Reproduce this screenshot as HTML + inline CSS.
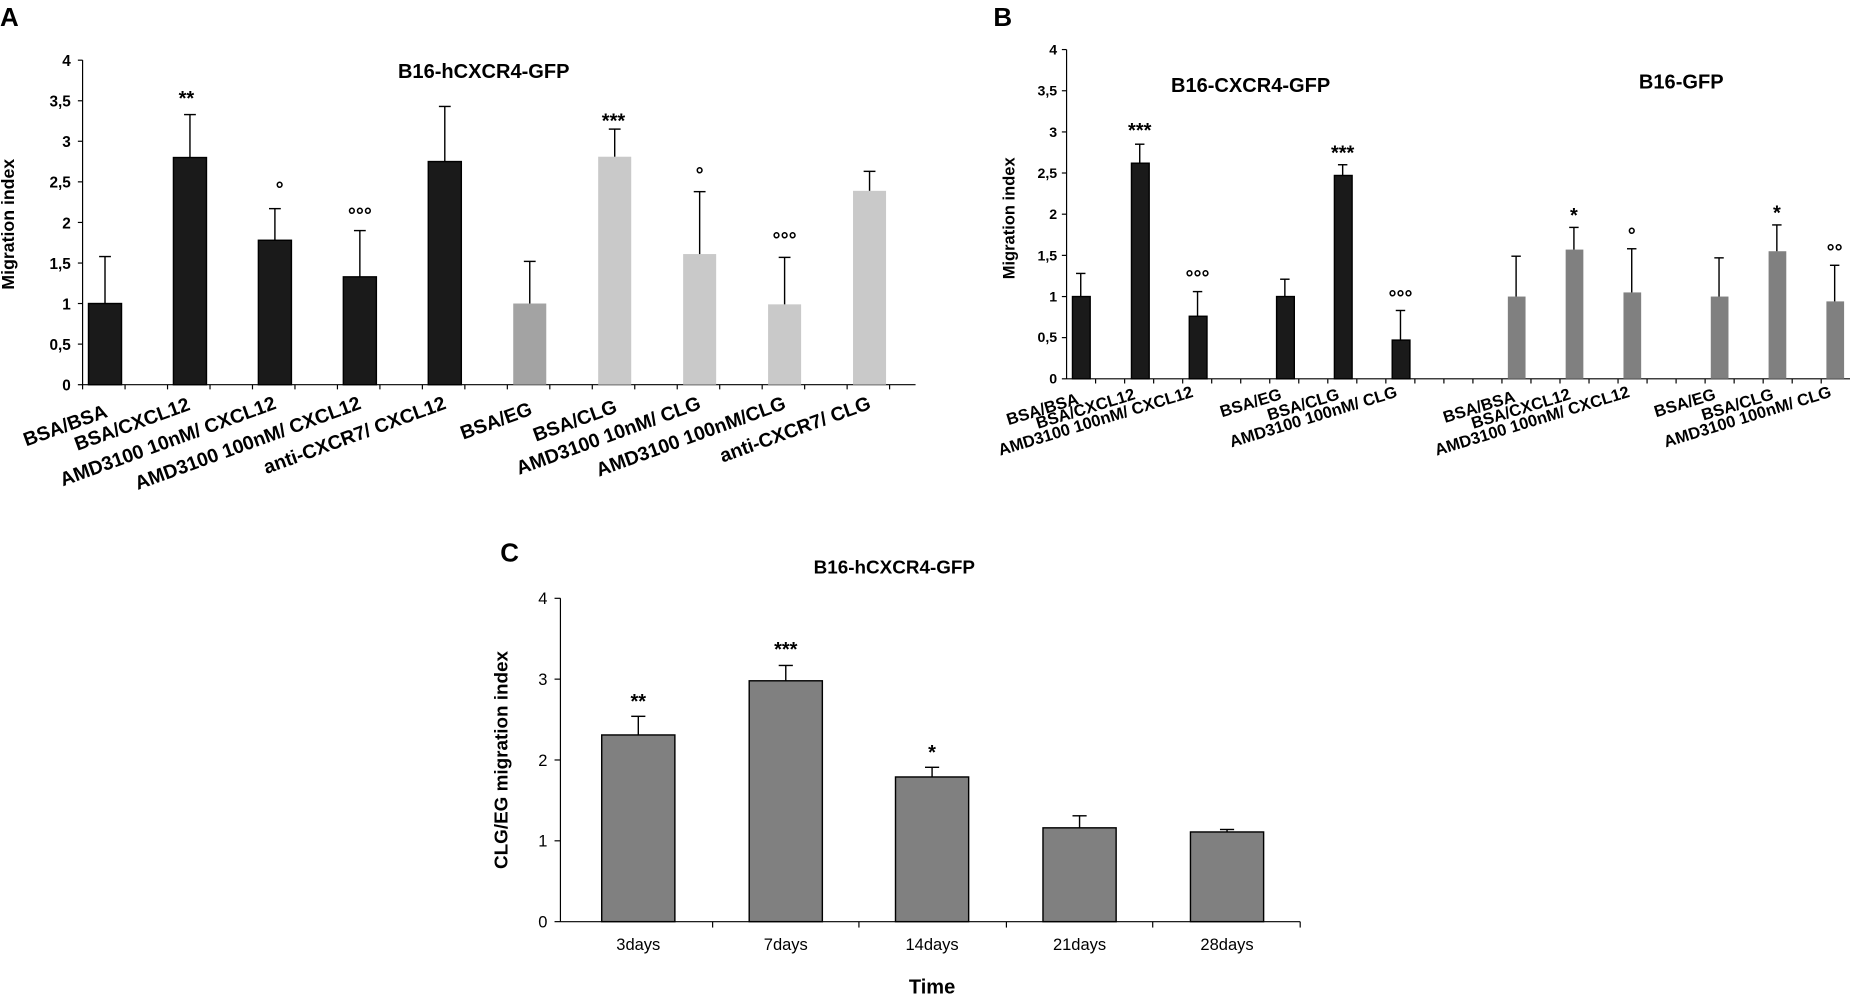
<!DOCTYPE html>
<html><head><meta charset="utf-8"><style>
html,body{margin:0;padding:0;background:#fff;}
svg{display:block;}
text{font-family:"Liberation Sans",Arial,sans-serif;fill:#000;}
.b{font-weight:bold;}
</style></head><body>
<svg width="1850" height="996" viewBox="0 0 1568 844" preserveAspectRatio="none" xmlns="http://www.w3.org/2000/svg">
<rect width="1568" height="844" fill="#fff"/>
<text x="0" y="22" class="b" font-size="22">A</text>
<text x="842" y="22" class="b" font-size="22">B</text>
<text x="424" y="476" class="b" font-size="22">C</text>

<!-- Panel A -->
<g id="A">
<line x1="70" y1="51" x2="70" y2="326" stroke="#000"/>
<line x1="70" y1="326" x2="776" y2="326" stroke="#000"/>
<g font-size="13" text-anchor="end" class="b">
<text x="60" y="331">0</text><text x="60" y="296.6">0,5</text><text x="60" y="262.2">1</text><text x="60" y="227.9">1,5</text>
<text x="60" y="193.5">2</text><text x="60" y="159.1">2,5</text><text x="60" y="124.7">3</text><text x="60" y="90.4">3,5</text><text x="60" y="56">4</text>
</g>
<g stroke="#000">
<line x1="66" y1="326" x2="70" y2="326"/><line x1="66" y1="291.6" x2="70" y2="291.6"/><line x1="66" y1="257.2" x2="70" y2="257.2"/><line x1="66" y1="222.9" x2="70" y2="222.9"/><line x1="66" y1="188.5" x2="70" y2="188.5"/><line x1="66" y1="154.1" x2="70" y2="154.1"/><line x1="66" y1="119.7" x2="70" y2="119.7"/><line x1="66" y1="85.4" x2="70" y2="85.4"/><line x1="66" y1="51" x2="70" y2="51"/>
<path d="M70 326v4M106 326v4M142 326v4M178 326v4M214 326v4M250 326v4M286 326v4M322 326v4M358 326v4M394 326v4M430 326v4M466 326v4M502 326v4M538 326v4M574 326v4M610 326v4M646 326v4M682 326v4M718 326v4M754 326v4"/>
</g>
<text transform="translate(12,190) rotate(-90)" text-anchor="middle" class="b" font-size="15">Migration index</text>
<text x="410" y="66" text-anchor="middle" class="b" font-size="17">B16-hCXCR4-GFP</text>
<g stroke="#000" stroke-width="1.2">
<rect x="75" y="257.2" width="28" height="68.8" fill="#1a1a1a"/><line x1="89" y1="257.2" x2="89" y2="217.4"/><line x1="84" y1="217.4" x2="94" y2="217.4"/>
<rect x="147" y="133.5" width="28" height="192.5" fill="#1a1a1a"/><line x1="161" y1="133.5" x2="161" y2="97.1"/><line x1="156" y1="97.1" x2="166" y2="97.1"/>
<rect x="219" y="203.6" width="28" height="122.4" fill="#1a1a1a"/><line x1="233" y1="203.6" x2="233" y2="176.8"/><line x1="228" y1="176.8" x2="238" y2="176.8"/>
<rect x="291" y="234.6" width="28" height="91.4" fill="#1a1a1a"/><line x1="305" y1="234.6" x2="305" y2="195.4"/><line x1="300" y1="195.4" x2="310" y2="195.4"/>
<rect x="363" y="136.9" width="28" height="189.1" fill="#1a1a1a"/><line x1="377" y1="136.9" x2="377" y2="90.2"/><line x1="372" y1="90.2" x2="382" y2="90.2"/>
<rect x="435" y="257.2" width="28" height="68.8" fill="#a3a3a3" stroke="none"/><line x1="449" y1="257.2" x2="449" y2="221.5"/><line x1="444" y1="221.5" x2="454" y2="221.5"/>
<rect x="507" y="132.8" width="28" height="193.2" fill="#c9c9c9" stroke="none"/><line x1="521" y1="132.8" x2="521" y2="109.4"/><line x1="516" y1="109.4" x2="526" y2="109.4"/>
<rect x="579" y="215.3" width="28" height="110.7" fill="#c9c9c9" stroke="none"/><line x1="593" y1="215.3" x2="593" y2="162.4"/><line x1="588" y1="162.4" x2="598" y2="162.4"/>
<rect x="651" y="257.9" width="28" height="68.1" fill="#c9c9c9" stroke="none"/><line x1="665" y1="257.9" x2="665" y2="218.1"/><line x1="660" y1="218.1" x2="670" y2="218.1"/>
<rect x="723" y="161.7" width="28" height="164.3" fill="#c9c9c9" stroke="none"/><line x1="737" y1="161.7" x2="737" y2="145.2"/><line x1="732" y1="145.2" x2="742" y2="145.2"/>
</g>
<g font-size="17" text-anchor="middle" class="b">
<text x="158" y="89">**</text><text x="237" y="166">°</text><text x="305" y="188">°°°</text><text x="520" y="108">***</text><text x="593" y="154">°</text><text x="665" y="209">°°°</text>
</g>
<g font-size="16.5" text-anchor="end" class="b">
<text transform="translate(92,353) rotate(-20)">BSA/BSA</text>
<text transform="translate(162,347) rotate(-20)">BSA/CXCL12</text>
<text transform="translate(235,346) rotate(-20)">AMD3100 10nM/ CXCL12</text>
<text transform="translate(307,346) rotate(-20)">AMD3100 100nM/ CXCL12</text>
<text transform="translate(379,346) rotate(-20)">anti-CXCR7/ CXCL12</text>
<text transform="translate(452,351) rotate(-20)">BSA/EG</text>
<text transform="translate(524,349) rotate(-20)">BSA/CLG</text>
<text transform="translate(595,346) rotate(-20)">AMD3100 10nM/ CLG</text>
<text transform="translate(667,346) rotate(-20)">AMD3100 100nM/CLG</text>
<text transform="translate(739,346) rotate(-20)">anti-CXCR7/ CLG</text>
</g>
</g>

<!-- Panel B -->
<g id="B">
<line x1="904" y1="42" x2="904" y2="321" stroke="#000"/>
<line x1="904" y1="321" x2="1568" y2="321" stroke="#000"/>
<g font-size="12" text-anchor="end" class="b">
<text x="896" y="325">0</text><text x="896" y="290">0,5</text><text x="896" y="255.5">1</text><text x="896" y="220.6">1,5</text>
<text x="896" y="185.6">2</text><text x="896" y="150.8">2,5</text><text x="896" y="115.9">3</text><text x="896" y="81">3,5</text><text x="896" y="46">4</text>
</g>
<g stroke="#000">
<line x1="900" y1="321" x2="904" y2="321"/><line x1="900" y1="286.1" x2="904" y2="286.1"/><line x1="900" y1="251.3" x2="904" y2="251.3"/><line x1="900" y1="216.4" x2="904" y2="216.4"/><line x1="900" y1="181.5" x2="904" y2="181.5"/><line x1="900" y1="146.6" x2="904" y2="146.6"/><line x1="900" y1="111.8" x2="904" y2="111.8"/><line x1="900" y1="76.9" x2="904" y2="76.9"/><line x1="900" y1="42" x2="904" y2="42"/>
<path d="M928.6 321v4M953.2 321v4M977.8 321v4M1002.4 321v4M1027 321v4M1051.6 321v4M1076.2 321v4M1100.8 321v4M1125.4 321v4M1150 321v4M1174.6 321v4M1199.2 321v4M1223.8 321v4M1248.4 321v4M1273 321v4M1297.6 321v4M1322.2 321v4M1346.8 321v4M1371.4 321v4M1396 321v4M1420.6 321v4M1445.2 321v4M1469.8 321v4M1494.4 321v4M1519 321v4M1543.6 321v4"/>
</g>
<text transform="translate(860,185) rotate(-90)" text-anchor="middle" class="b" font-size="14">Migration index</text>
<text x="1060" y="78" text-anchor="middle" class="b" font-size="17">B16-CXCR4-GFP</text>
<text x="1425" y="75" text-anchor="middle" class="b" font-size="17">B16-GFP</text>
<g stroke="#000" stroke-width="1.2">
<rect x="909" y="251.3" width="15" height="69.7" fill="#1a1a1a"/><line x1="916" y1="251.3" x2="916" y2="231.7"/><line x1="912" y1="231.7" x2="920" y2="231.7"/>
<rect x="959" y="138.3" width="15" height="182.7" fill="#1a1a1a"/><line x1="966" y1="138.3" x2="966" y2="122.2"/><line x1="962" y1="122.2" x2="970" y2="122.2"/>
<rect x="1008" y="268" width="15" height="53" fill="#1a1a1a"/><line x1="1015" y1="268" x2="1015" y2="247.1"/><line x1="1011" y1="247.1" x2="1019" y2="247.1"/>
<rect x="1082" y="251.3" width="15" height="69.7" fill="#1a1a1a"/><line x1="1089" y1="251.3" x2="1089" y2="236.6"/><line x1="1085" y1="236.6" x2="1093" y2="236.6"/>
<rect x="1131" y="148.7" width="15" height="172.3" fill="#1a1a1a"/><line x1="1138" y1="148.7" x2="1138" y2="139.6"/><line x1="1134" y1="139.6" x2="1142" y2="139.6"/>
<rect x="1180" y="288.2" width="15" height="32.8" fill="#1a1a1a"/><line x1="1187" y1="288.2" x2="1187" y2="263.1"/><line x1="1183" y1="263.1" x2="1191" y2="263.1"/>
<rect x="1278" y="251.3" width="15" height="69.7" fill="#808080" stroke="none"/><line x1="1285" y1="251.3" x2="1285" y2="217.1"/><line x1="1281" y1="217.1" x2="1289" y2="217.1"/>
<rect x="1327" y="211.5" width="15" height="109.5" fill="#808080" stroke="none"/><line x1="1334" y1="211.5" x2="1334" y2="192.7"/><line x1="1330" y1="192.7" x2="1338" y2="192.7"/>
<rect x="1376" y="247.8" width="15" height="73.2" fill="#808080" stroke="none"/><line x1="1383" y1="247.8" x2="1383" y2="210.8"/><line x1="1379" y1="210.8" x2="1387" y2="210.8"/>
<rect x="1450" y="251.3" width="15" height="69.7" fill="#808080" stroke="none"/><line x1="1457" y1="251.3" x2="1457" y2="218.5"/><line x1="1453" y1="218.5" x2="1461" y2="218.5"/>
<rect x="1499" y="212.9" width="15" height="108.1" fill="#808080" stroke="none"/><line x1="1506" y1="212.9" x2="1506" y2="190.6"/><line x1="1502" y1="190.6" x2="1510" y2="190.6"/>
<rect x="1548" y="255.4" width="15" height="65.6" fill="#808080" stroke="none"/><line x1="1555" y1="255.4" x2="1555" y2="224.8"/><line x1="1551" y1="224.8" x2="1559" y2="224.8"/>
</g>
<g font-size="17" text-anchor="middle" class="b">
<text x="966" y="116">***</text><text x="1015" y="241">°°°</text><text x="1138" y="135">***</text><text x="1187" y="258">°°°</text>
<text x="1334" y="188">*</text><text x="1383" y="205">°</text><text x="1506" y="186">*</text><text x="1555" y="219">°°</text>
</g>
<g font-size="14" text-anchor="end" class="b">
<text transform="translate(915,342) rotate(-17)">BSA/BSA</text>
<text transform="translate(963,338) rotate(-17)">BSA/CXCL12</text>
<text transform="translate(1012,336) rotate(-17)">AMD3100 100nM/ CXCL12</text>
<text transform="translate(1087,338) rotate(-17)">BSA/EG</text>
<text transform="translate(1136,338) rotate(-17)">BSA/CLG</text>
<text transform="translate(1185,336) rotate(-17)">AMD3100 100nM/ CLG</text>
<text transform="translate(1285,340) rotate(-17)">BSA/BSA</text>
<text transform="translate(1332,338) rotate(-17)">BSA/CXCL12</text>
<text transform="translate(1382,336) rotate(-17)">AMD3100 100nM/ CXCL12</text>
<text transform="translate(1455,338) rotate(-17)">BSA/EG</text>
<text transform="translate(1504,338) rotate(-17)">BSA/CLG</text>
<text transform="translate(1553,336) rotate(-17)">AMD3100 100nM/ CLG</text>
</g>
</g>

<!-- Panel C -->
<g id="C">
<line x1="475" y1="507" x2="475" y2="781" stroke="#000"/>
<line x1="475" y1="781" x2="1102" y2="781" stroke="#000"/>
<g stroke="#000">
<line x1="470" y1="781" x2="475" y2="781"/><line x1="470" y1="712.5" x2="475" y2="712.5"/><line x1="470" y1="644" x2="475" y2="644"/><line x1="470" y1="575.5" x2="475" y2="575.5"/><line x1="470" y1="507" x2="475" y2="507"/>
<line x1="604" y1="781" x2="604" y2="786"/><line x1="728" y1="781" x2="728" y2="786"/><line x1="853" y1="781" x2="853" y2="786"/><line x1="977" y1="781" x2="977" y2="786"/><line x1="1102" y1="781" x2="1102" y2="786"/>
</g>
<g font-size="14" text-anchor="end">
<text x="464" y="786">0</text><text x="464" y="717.5">1</text><text x="464" y="649">2</text><text x="464" y="580.5">3</text><text x="464" y="512">4</text>
</g>
<text transform="translate(430,644) rotate(-90)" text-anchor="middle" class="b" font-size="16">CLG/EG migration index</text>
<text x="758" y="486" text-anchor="middle" class="b" font-size="16">B16-hCXCR4-GFP</text>
<g stroke="#000" stroke-width="1.2">
<rect x="510" y="622.8" width="62" height="158.2" fill="#808080"/><line x1="541" y1="622.8" x2="541" y2="607"/><line x1="535" y1="607" x2="547" y2="607"/>
<rect x="635" y="576.9" width="62" height="204.1" fill="#808080"/><line x1="666" y1="576.9" x2="666" y2="563.9"/><line x1="660" y1="563.9" x2="672" y2="563.9"/>
<rect x="759" y="658.4" width="62" height="122.6" fill="#808080"/><line x1="790" y1="658.4" x2="790" y2="650.2"/><line x1="784" y1="650.2" x2="796" y2="650.2"/>
<rect x="884" y="701.5" width="62" height="79.5" fill="#808080"/><line x1="915" y1="701.5" x2="915" y2="691.3"/><line x1="909" y1="691.3" x2="921" y2="691.3"/>
<rect x="1009" y="705" width="62" height="76" fill="#808080"/><line x1="1040" y1="705" x2="1040" y2="702.9"/><line x1="1034" y1="702.9" x2="1046" y2="702.9"/>
</g>
<g font-size="17" text-anchor="middle" class="b">
<text x="541" y="600">**</text><text x="666" y="556">***</text><text x="790" y="643">*</text>
</g>
<g font-size="14" text-anchor="middle">
<text x="541" y="805">3days</text><text x="666" y="805">7days</text><text x="790" y="805">14days</text><text x="915" y="805">21days</text><text x="1040" y="805">28days</text>
</g>
<text x="790" y="842" text-anchor="middle" class="b" font-size="17">Time</text>
</g>
</svg>
</body></html>
